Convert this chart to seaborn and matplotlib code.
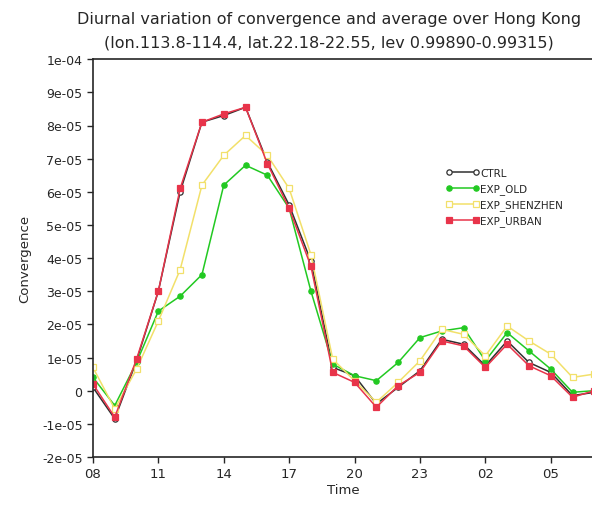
import numpy as np
import pandas as pd
import matplotlib
matplotlib.use('Agg')
import matplotlib.pyplot as plt
import seaborn as sns

# ## Dados (convergencia media sobre Hong Kong, unidade 1e-5)
horas = ['08', '09', '10', '11', '12', '13', '14', '15', '16', '17', '18', '19',
         '20', '21', '22', '23', '00', '01', '02', '03', '04', '05', '06', '07']
ctrl = [0.1, -0.85, 0.9, 3.0, 6.0, 8.1, 8.3, 8.55, 6.9, 5.6, 3.9, 0.7,
        0.45, -0.4, 0.1, 0.6, 1.55, 1.4, 0.75, 1.5, 0.85, 0.55, -0.15, -0.05]
exp_old = [0.4, -0.45, 0.85, 2.4, 2.85, 3.5, 6.2, 6.8, 6.5, 5.5, 3.0, 0.8,
           0.45, 0.3, 0.85, 1.6, 1.8, 1.9, 0.9, 1.75, 1.2, 0.65, -0.05, 0.0]
exp_shenzhen = [0.7, -0.55, 0.65, 2.1, 3.65, 6.2, 7.1, 7.7, 7.1, 6.1, 4.1, 0.95,
                0.3, -0.35, 0.25, 0.9, 1.85, 1.7, 1.05, 1.95, 1.5, 1.1, 0.4, 0.5]
exp_urban = [0.2, -0.8, 0.95, 3.0, 6.1, 8.1, 8.35, 8.55, 6.85, 5.5, 3.75, 0.55,
             0.25, -0.5, 0.15, 0.55, 1.5, 1.35, 0.7, 1.4, 0.75, 0.45, -0.2, 0.0]

series = {'CTRL': ctrl, 'EXP_OLD': exp_old,
          'EXP_SHENZHEN': exp_shenzhen, 'EXP_URBAN': exp_urban}

hora = np.arange(len(horas))
df = pd.concat([pd.DataFrame({'hora': hora, 'valor': np.array(v) * 1e-5, 'exp': k})
                for k, v in series.items()])

# estilo de cada experimento
estilos = {
    'CTRL': dict(color='#303030', marker='o', mfc='white', mec='#303030'),
    'EXP_OLD': dict(color='#22c922', marker='o', mfc='#22c922', mec='#22c922'),
    'EXP_SHENZHEN': dict(color='#f2e06a', marker='s', mfc='white', mec='#f2e06a'),
    'EXP_URBAN': dict(color='#e8344a', marker='s', mfc='#e8344a', mec='#e8344a'),
}

sns.set_style('ticks')
fig = plt.figure(figsize=(5.92, 5.06), dpi=100)
ax = fig.add_axes([0.157, 0.095, 0.847, 0.786])

for k in series:
    e = estilos[k]
    sns.lineplot(data=df[df['exp'] == k], x='hora', y='valor', ax=ax,
                 color=e['color'], marker=e['marker'], markersize=3.8,
                 markerfacecolor=e['mfc'], markeredgecolor=e['mec'],
                 markeredgewidth=0.9, linewidth=1.1, label=k)

ax.set_xlim(0, 23)
ax.set_ylim(-2e-5, 1e-4)
ax.set_xticks(hora[::3])
ax.set_xticklabels(horas[::3], fontsize=9.5)
yt = np.arange(-2, 11) * 1e-5
ax.set_yticks(yt)
ylabels = ['0' if abs(v) < 1e-12 else ('%.0e' % v) for v in yt]
ax.set_yticklabels(ylabels, fontsize=9)
ax.tick_params(direction='out', length=4, width=1)
for s in ['left', 'bottom', 'top']:
    ax.spines[s].set_linewidth(1.2)
ax.spines['right'].set_visible(False)

ax.set_xlabel('Time', fontsize=9.5, labelpad=2)
ax.set_ylabel('Convergence', fontsize=9.5, labelpad=8)
ax.set_title('Diurnal variation of convergence and average over Hong Kong\n'
             '(lon.113.8-114.4, lat.22.18-22.55, lev 0.99890-0.99315)',
             fontsize=11.5, pad=9, linespacing=1.75, x=0.47)

ax.legend(loc='upper left', bbox_to_anchor=(0.685, 0.75), frameon=False,
          fontsize=7.5, handlelength=3.2, labelspacing=0.5, handletextpad=0.1,
          numpoints=2)

fig.savefig('out.png', dpi=100)
